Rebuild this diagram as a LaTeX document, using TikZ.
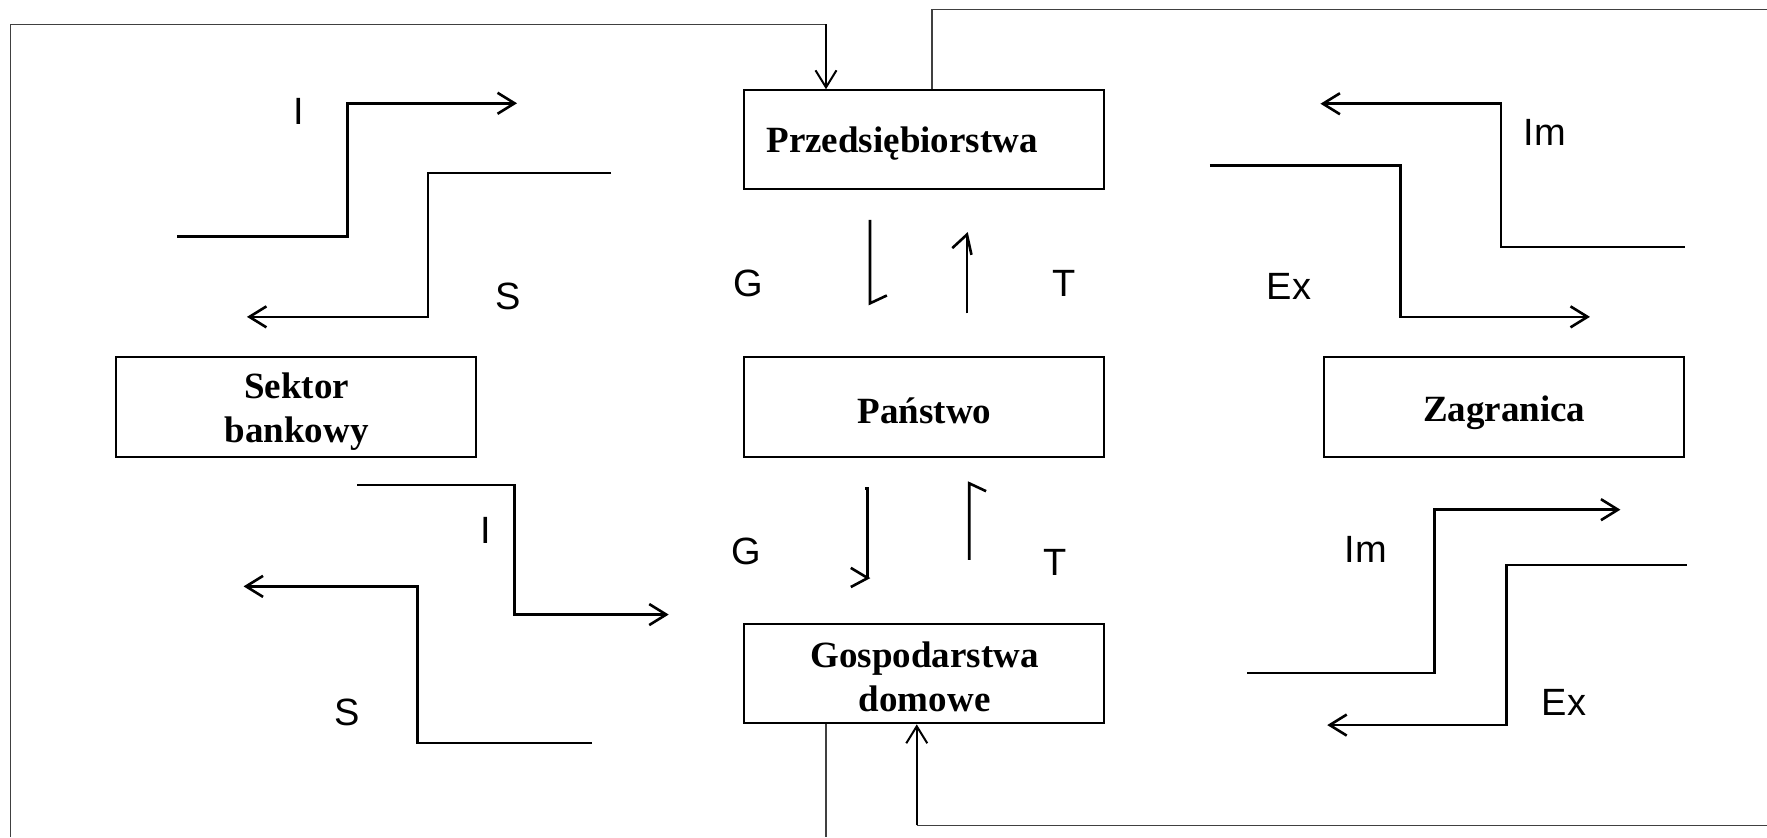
\documentclass[tikz,border=0pt]{standalone}
\usepackage{fontspec}
\setmainfont{Liberation Serif}
\setsansfont{Liberation Sans}
\usetikzlibrary{arrows.meta}
\begin{document}
\begin{tikzpicture}[x=0.5638pt,y=-0.5638pt,
  boxst/.style={draw,line width=1pt,rectangle,inner sep=0pt,minimum width=179.9pt,minimum height=49.6pt},
  boxtxt/.style={inner sep=0pt,font=\bfseries\fontsize{18.5}{22}\selectfont,align=center},
  lbl/.style={inner sep=0pt,font=\sffamily\fontsize{19}{22}\selectfont},
  flow/.style={line width=1.3pt,line join=miter},
  flowarr/.style={flow,-{Straight Barb[length=8.5pt,width=10.5pt,line width=1.3pt]}},
  thin/.style={line width=0.6pt,black!75},
  feed/.style={line width=1pt,-{Straight Barb[length=8.5pt,width=10.5pt,line width=1pt]}}
]
\useasboundingbox (0,0) rectangle (1567,742.3);
% boxes
\node[boxst] (P) at (819.5,124) {};
\node[boxtxt] (Ptxt) at (800,127.5) {Przedsiębiorstwa};
\node[boxst] (Pa) at (819.5,361) {};
\node[boxtxt] (Patxt) at (820,364.5) {Państwo};
\node[boxst] (H) at (819.5,597.5) {};
\node[boxtxt] (Htxt) at (820,600.5) {Gospodarstwa\\domowe};
\node[boxst] (B) at (262.5,361) {};
\node[boxtxt] (Btxt) at (263,365) {Sektor\\bankowy};
\node[boxst] (Z) at (1334,361) {};
\node[boxtxt] (Ztxt) at (1334,366) {Zagranica};
% outer connectors
\coordinate (lb) at (9,742.3);
\coordinate (lt) at (9,21.6);
\coordinate (pt) at (732.5,21.6);
\draw[thin] (lb) -- (lt) -- (pt);
\draw[feed] (pt) -- (pt |- P.north);
\coordinate (rt) at (826.5,8.3);
\coordinate (re) at (1567,8.3);
\draw[thin] (rt |- P.north) -- (rt) -- (re);
\coordinate (hb) at (732.5,742.3);
\draw[thin] (hb |- H.south) -- (hb);
\coordinate (br) at (1567,732);
\coordinate (bl) at (813,732);
\draw[thin] (br) -- (bl);
\draw[feed] (bl) -- (bl |- H.south);
% top-left flows
\coordinate (i1a) at (157,209.5);
\coordinate (i1b) at (458.5,91.6);
\draw[flowarr] (i1a) -- (308,209.5) -- (308,91.6) -- (i1b);
\coordinate (s1a) at (542,153.5);
\coordinate (s1b) at (219,281);
\draw[flowarr] (s1a) -- (379.6,153.5) -- (379.6,281) -- (s1b);
\node[lbl] (lI1) at (265,99) {I};
\node[lbl] (lS1) at (451,263) {S};
% bottom-left flows
\coordinate (i2a) at (317,430);
\coordinate (i2b) at (593,545);
\draw[flowarr] (i2a) -- (456,430) -- (456,545) -- (i2b);
\coordinate (s2a) at (525,659);
\coordinate (s2b) at (216,520);
\draw[flowarr] (s2a) -- (370,659) -- (370,520) -- (s2b);
\node[lbl] (lI2) at (431,470) {I};
\node[lbl] (lS2) at (308,632) {S};
% top-right flows
\coordinate (m1a) at (1494,219);
\coordinate (m1b) at (1171,92);
\draw[flowarr] (m1a) -- (1331,219) -- (1331,92) -- (m1b);
\coordinate (e1a) at (1073,147);
\coordinate (e1b) at (1410,281);
\draw[flowarr] (e1a) -- (1242,147) -- (1242,281) -- (e1b);
\node[lbl] (lIm1) at (1370,117) {Im};
\node[lbl] (lEx1) at (1143,254) {Ex};
% bottom-right flows
\coordinate (m2a) at (1106,597);
\coordinate (m2b) at (1437,452);
\draw[flowarr] (m2a) -- (1272,597) -- (1272,452) -- (m2b);
\coordinate (e2a) at (1496,501);
\coordinate (e2b) at (1177,643);
\draw[flowarr] (e2a) -- (1336,501) -- (1336,643) -- (e2b);
\node[lbl] (lIm2) at (1211,487) {Im};
\node[lbl] (lEx2) at (1387,623) {Ex};
% G / T between boxes
\node[lbl] (lG1) at (664,251) {G};
\node[lbl] (lT1) at (944,251) {T};
\node[lbl] (lG2) at (662,489) {G};
\node[lbl] (lT2) at (936,499) {T};
\draw[flow] (771.5,195) -- (771.5,269) -- (786.5,262);
\draw[flow] (857.5,278) -- (857.5,208);
\draw[flow] (844.5,220) -- (857.5,208) -- (861.5,226);
\draw[flow] (767,433) -- (769.5,433) -- (769.5,512.6);
\draw[flow] (754.5,503.6) -- (769.5,512.6) -- (754.5,520.6);
\draw[flow] (859.5,496.6) -- (859.5,428.6) -- (874.5,435.6);
\end{tikzpicture}
\end{document}
